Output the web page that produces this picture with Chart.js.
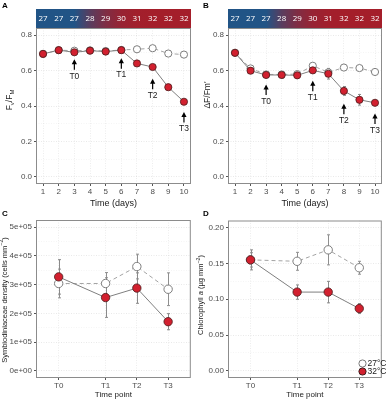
<!DOCTYPE html>
<html><head><meta charset="utf-8">
<script src="https://cdn.jsdelivr.net/npm/chart.js@4.4.0/dist/chart.umd.min.js"></script>
<style>
html,body{margin:0;padding:0;background:#fff;}
body{width:387px;height:401px;position:relative;overflow:hidden;font-family:"Liberation Sans",Arial,sans-serif;}
canvas{position:absolute;}
.lbl{position:absolute;font:bold 8px "Liberation Sans",Arial,sans-serif;color:#000;}
</style></head><body>
<canvas id="cA" style="left:0px;top:0px" width="196" height="210"></canvas>
<canvas id="cB" style="left:193px;top:0px" width="194" height="210"></canvas>
<canvas id="cC" style="left:0px;top:205px" width="196" height="196"></canvas>
<canvas id="cD" style="left:193px;top:205px" width="194" height="196"></canvas>
<div class="lbl" style="left:2px;top:1px">A</div>
<div class="lbl" style="left:203px;top:1px">B</div>
<div class="lbl" style="left:2px;top:209px">C</div>
<div class="lbl" style="left:203px;top:209px">D</div>
<script>
// ---------- DATA ----------
const days = [1,2,3,4,5,6,7,8,9,10];
const temps = [27,27,27,28,29,30,31,32,32,32];
const fvfm27 = [0.694,0.715,0.712,0.714,0.710,0.716,0.720,0.726,0.696,0.690];
const fvfm27Err = [0.004,0.004,0.004,0.004,0.004,0.004,0.005,0.005,0.006,0.006];
const fvfm32 = [0.694,0.715,0.703,0.712,0.707,0.715,0.640,0.620,0.506,0.424];
const fvfm32Err = [0.004,0.004,0.005,0.005,0.005,0.005,0.008,0.008,0.010,0.010];
const yield27 = [0.700,0.612,0.578,0.578,0.580,0.627,0.590,0.617,0.614,0.592];
const yield27Err = [0.005,0.012,0.010,0.012,0.015,0.012,0.020,0.015,0.012,0.010];
const yield32 = [0.700,0.599,0.575,0.575,0.573,0.601,0.582,0.485,0.435,0.418];
const yield32Err = [0.005,0.015,0.015,0.018,0.018,0.015,0.030,0.025,0.030,0.010];
const arrowLabels = ['T0','T1','T2','T3'];
const arrowDays = [3,6,8,10];
const arrowTipsA = [0.664,0.670,0.554,0.366];
const arrowTipsB = [0.521,0.543,0.413,0.357];
const timePoints = ['T0','T1','T2','T3'];
const timePointDays = [3,6,8,10];
const dens27 = [304000,304000,363000,284000];
const dens27Err = [50000,38000,43000,57000];
const dens32 = [327000,255000,288000,171000];
const dens32Err = [60000,69000,53000,28000];
const chl27 = [0.155,0.153,0.169,0.144];
const chl27Err = [0.010,0.0125,0.021,0.009];
const chl32 = [0.155,0.110,0.110,0.087];
const chl32Err = [0.014,0.010,0.015,0.007];
const legendLabels = ['27°C','32°C'];

// ---------- STYLE ----------
const FONT = '"Liberation Sans", Arial, sans-serif';
const RED = '#d2202f';
const pts = (xs, ys) => xs.map((x,i)=>({x:x, y:ys[i]}));

function tempColor(t){
  const f0 = Math.min(1, Math.max(0,(t-27)/5));
  const f = 1 - Math.pow(1-f0, 2.5);
  const a=[33,84,134], b=[164,30,42];
  const c = a.map((v,i)=>Math.round(v+(b[i]-v)*f));
  return `rgb(${c[0]},${c[1]},${c[2]})`;
}

function drawRich(ctx, segs, cx, cy, size, color){
  ctx.save();
  ctx.translate(cx, cy);
  ctx.rotate(-Math.PI/2);
  let total = 0;
  const items = segs.map(s=>{
    const fs = (s.sub||s.sup) ? size*0.7 : size;
    const font = (s.italic?'italic ':'') + fs + 'px ' + FONT;
    ctx.font = font;
    const w = ctx.measureText(s.t).width;
    total += w;
    return {s, font, w};
  });
  let x = -total/2;
  ctx.fillStyle = color; ctx.textBaseline = 'middle'; ctx.textAlign = 'left';
  items.forEach(it=>{
    ctx.font = it.font;
    const dy = it.s.sub ? size*0.3 : (it.s.sup ? -size*0.35 : 0);
    ctx.fillText(it.s.t, x, dy);
    x += it.w;
  });
  ctx.restore();
}

const errorBarPlugin = {
  id:'errbars',
  beforeDatasetsDraw(chart){
    const {ctx} = chart; const ys = chart.scales.y, xs = chart.scales.x;
    const cap = chart.options.plugins.errbars.cap;
    chart.data.datasets.forEach(ds=>{
      if(!ds.errors) return;
      ctx.save(); ctx.strokeStyle = ds.errColor; ctx.lineWidth = 1;
      ds.data.forEach((p,i)=>{
        const e = ds.errors[i]; if(!e) return;
        const x = Math.round(xs.getPixelForValue(p.x))+0.5;
        const y1 = ys.getPixelForValue(p.y+e), y2 = ys.getPixelForValue(p.y-e);
        ctx.beginPath(); ctx.moveTo(x,y1); ctx.lineTo(x,y2);
        ctx.moveTo(x-cap,y1); ctx.lineTo(x+cap,y1);
        ctx.moveTo(x-cap,y2); ctx.lineTo(x+cap,y2);
        ctx.stroke();
      });
      ctx.restore();
    });
  }
};

const boxPlugin = {
  id:'box',
  afterDraw(chart){
    const {ctx, chartArea:a} = chart;
    ctx.save(); ctx.strokeStyle = '#8c8c8c'; ctx.lineWidth = 1;
    ctx.strokeRect(a.left+0.5, a.top+0.5, a.right-a.left-1, a.bottom-a.top-1);
    ctx.restore();
    const o = chart.options.plugins.box;
    if(o && o.title) drawRich(ctx, o.title, o.tx, o.ty, o.size, '#1a1a1a');
  }
};

const stripPlugin = {
  id:'strip',
  afterDraw(chart){
    const o = chart.options.plugins.strip; if(!o || !o.show) return;
    const {ctx, chartArea:a} = chart; const xs = chart.scales.x;
    const g = ctx.createLinearGradient(a.left,0,a.right,0);
    days.forEach((d,i)=>{
      const p = (xs.getPixelForValue(d)-a.left)/(a.right-a.left);
      g.addColorStop(Math.min(1,Math.max(0,p)), tempColor(temps[i]));
    });
    ctx.save();
    ctx.fillStyle = g;
    ctx.fillRect(a.left, o.top, a.right-a.left, a.top-o.top);
    ctx.fillStyle = '#fff'; ctx.font = '8px "Open Sans", ' + FONT;
    ctx.textAlign='center'; ctx.textBaseline='middle';
    days.forEach((d,i)=>ctx.fillText(String(temps[i]), xs.getPixelForValue(d), (o.top+a.top)/2+0.5));
    ctx.restore();
  }
};

const arrowPlugin = {
  id:'arrows',
  afterDatasetsDraw(chart){
    const o = chart.options.plugins.arrows; if(!o || !o.tips) return;
    const {ctx} = chart; const xs = chart.scales.x, ys = chart.scales.y;
    ctx.save();
    ctx.strokeStyle = '#000'; ctx.fillStyle = '#000'; ctx.lineWidth = 1.2;
    arrowDays.forEach((d,i)=>{
      const x = xs.getPixelForValue(d), y = ys.getPixelForValue(o.tips[i]);
      ctx.beginPath(); ctx.moveTo(x, y+4); ctx.lineTo(x, y+10.5); ctx.stroke();
      ctx.beginPath(); ctx.moveTo(x, y); ctx.lineTo(x-2.6, y+5); ctx.lineTo(x+2.6, y+5); ctx.closePath(); ctx.fill();
      ctx.font = '8.5px ' + FONT; ctx.textAlign='center'; ctx.textBaseline='middle';
      ctx.fillStyle = '#1a1a1a';
      ctx.fillText(arrowLabels[i], x, y+17);
      ctx.fillStyle = '#000';
    });
    ctx.restore();
  }
};

const legendPlugin = {
  id:'leg',
  afterDraw(chart){
    const o = chart.options.plugins.leg; if(!o || !o.show) return;
    const {ctx} = chart;
    ctx.save();
    const styles = [{fill:'#fff', stroke:'#7a7a7a'},{fill:RED, stroke:'#3b1a1a'}];
    legendLabels.forEach((t,i)=>{
      const y = o.y + i*o.dy;
      ctx.beginPath(); ctx.arc(o.x, y, 3.6, 0, Math.PI*2);
      ctx.fillStyle = styles[i].fill; ctx.fill();
      ctx.strokeStyle = styles[i].stroke; ctx.lineWidth = 1; ctx.stroke();
      ctx.fillStyle = '#1a1a1a'; ctx.font = '8.5px ' + FONT;
      ctx.textAlign = 'left'; ctx.textBaseline = 'middle';
      ctx.fillText(t, o.x+5, y+0.5);
    });
    ctx.restore();
  }
};

function mkDatasets(xv, y27, e27, y32, e32, r){
  return [
    {label:legendLabels[0], data:pts(xv,y27), errors:e27, errColor:'#8f8f8f',
     borderColor:'#a3a3a3', borderWidth:1, borderDash:[4,3],
     pointBackgroundColor:'#fff', pointBorderColor:'#7d7d7d', pointBorderWidth:1,
     pointRadius:r, order:1, tension:0},
    {label:legendLabels[1], data:pts(xv,y32), errors:e32, errColor:'#8a8a8a',
     borderColor:'#7f7f7f', borderWidth:1,
     pointBackgroundColor:RED, pointBorderColor:'#4a1a1a', pointBorderWidth:0.8,
     pointRadius:r, order:0, tension:0}
  ];
}

function mkChart(id, cfg){
  const gridCol = (c)=> (c.index%2===0 ? 'rgba(0,0,0,0.085)' : 'rgba(0,0,0,0.04)');
  const tickCol = (c)=> (c.index%2===0 ? '#555' : 'rgba(0,0,0,0)');
  return new Chart(document.getElementById(id), {
    type:'line',
    data:{datasets:cfg.datasets},
    plugins:[errorBarPlugin, boxPlugin, stripPlugin, arrowPlugin, legendPlugin],
    options:{
      responsive:false, animation:false, devicePixelRatio:1,
      layout:{padding:cfg.padding},
      plugins:{legend:{display:false}, tooltip:{enabled:false},
        errbars:{cap:cfg.cap},
        box:{title:cfg.ytitle, tx:cfg.tx, ty:cfg.ty, size:cfg.ytSize},
        strip:{show:!!cfg.strip, top:cfg.stripTop},
        arrows:{tips:cfg.tips},
        leg:cfg.leg || {show:false}},
      scales:{
        x:{type:'linear', min:cfg.xmin, max:cfg.xmax,
          afterBuildTicks:(s)=>{ s.ticks = cfg.xticks.map(v=>({value:v})); },
          afterFit:(s)=>{ s.height = cfg.xh; },
          ticks:{callback:cfg.xlabel, font:{family:FONT, size:cfg.xtSize}, color:'#4d4d4d', padding:1, maxRotation:0, autoSkip:false},
          grid:{color:'rgba(0,0,0,0.07)', tickColor:'#555', tickLength:2, drawOnChartArea:true},
          border:{display:false, dash:[1,1.5]},
          title:{display:true, text:cfg.xtitle, font:{family:FONT, size:cfg.xTitleSize}, color:'#1a1a1a', padding:{top:0,bottom:cfg.xtPad}}
        },
        y:{type:'linear', min:cfg.ymin, max:cfg.ymax,
          afterBuildTicks:(s)=>{ s.ticks = cfg.yticks.map(v=>({value:v})); },
          afterFit:(s)=>{ s.width = cfg.yw; },
          ticks:{callback:(v,i)=> (i%2===0 ? cfg.ylabel(v) : ''), font:{family:FONT, size:cfg.ytkSize}, color:'#4d4d4d', padding:2, autoSkip:false},
          grid:{color:gridCol, tickColor:tickCol, tickLength:2},
          border:{display:false, dash:[1,1.5]}
        }
      }
    }
  });
}

const yTicks08 = [0,0.1,0.2,0.3,0.4,0.5,0.6,0.7,0.8];
const commonAB = {xmin:0.55, xmax:10.45, xticks:days, xlabel:(v)=>String(v),
  ymin:-0.04, ymax:0.84, yticks:yTicks08, ylabel:(v)=>v.toFixed(1),
  xh:26, xtitle:'Time (days)', xTitleSize:9, xtPad:1, xtSize:8, ytkSize:8,
  strip:true, stripTop:9, cap:1.5, ytSize:8.5};

mkChart('cA', Object.assign({}, commonAB, {
  datasets: mkDatasets(days, fvfm27, fvfm27Err, fvfm32, fvfm32Err, 3.6),
  padding:{left:0, top:28, right:2, bottom:0}, yw:36,
  ytitle:[{t:'F'},{t:'v',sub:true},{t:'/F'},{t:'M',sub:true}], tx:10, ty:100,
  tips: arrowTipsA
}));

mkChart('cB', Object.assign({}, commonAB, {
  datasets: mkDatasets(days, yield27, yield27Err, yield32, yield32Err, 3.6),
  padding:{left:0, top:28, right:0, bottom:0}, yw:35,
  ytitle:[{t:'\u0394F/Fm\''}], tx:15, ty:95,
  tips: arrowTipsB
}));

const commonCD = {xmin:1.55, xmax:11.45, xticks:timePointDays,
  xlabel:(v)=>timePoints[timePointDays.indexOf(v)] || '',
  xh:23, xtitle:'Time point', xTitleSize:8, xtPad:1.5, xtSize:8, ytkSize:8,
  strip:false, cap:1.5, ytSize:7.5};

mkChart('cC', Object.assign({}, commonCD, {
  datasets: mkDatasets(timePointDays, dens27, dens27Err, dens32, dens32Err, 4.2),
  padding:{left:0, top:15, right:2, bottom:0}, yw:36,
  ymin:-25000, ymax:525000, yticks:[0,50000,100000,150000,200000,250000,300000,350000,400000,450000,500000],
  ylabel:(v)=> v===0 ? '0e+00' : (Math.round(v/1e5))+'e+05',
  ytitle:[{t:'Symbiodiniaceae density (cells mm'},{t:'\u22122',sup:true},{t:')'}], tx:4.5, ty:95
}));

mkChart('cD', Object.assign({}, commonCD, {
  datasets: mkDatasets(timePointDays, chl27, chl27Err, chl32, chl32Err, 4.2),
  padding:{left:0, top:15.5, right:0, bottom:0}, yw:35,
  ymin:-0.01, ymax:0.21, yticks:[0,0.025,0.05,0.075,0.1,0.125,0.15,0.175,0.2],
  ylabel:(v)=>v.toFixed(2),
  ytitle:[{t:'Chlorophyll '},{t:'a',italic:true},{t:' (\u00b5g mm'},{t:'\u22122',sup:true},{t:')'}], tx:8, ty:90,
  leg:{show:true, x:169.5, y:158.5, dy:8}
}));
</script>
</body></html>
